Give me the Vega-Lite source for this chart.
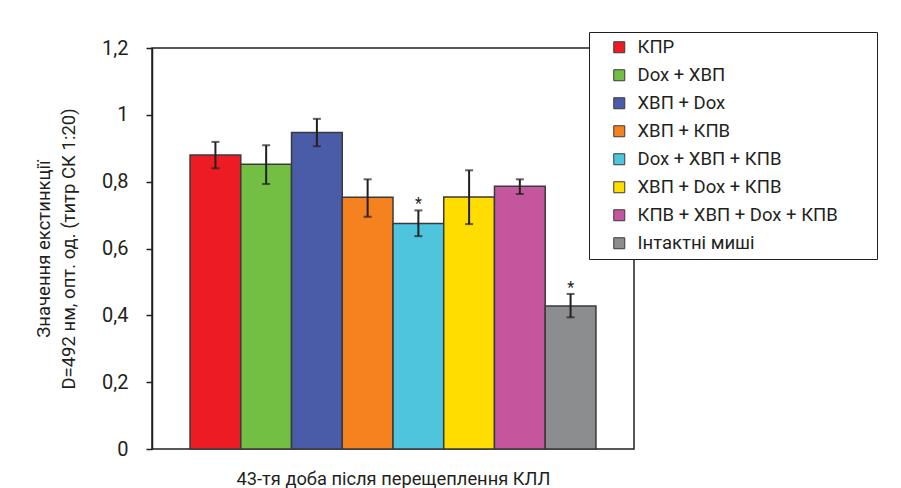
{
  "$schema": "https://vega.github.io/schema/vega-lite/v6.json",
  "autosize": {"type": "none"},
  "width": 482,
  "height": 401,
  "padding": {"left": 152, "top": 48, "right": 267, "bottom": 39},
  "background": "white",
  "config": {
    "font": "Roboto",
    "view": {"stroke": "#231F20", "strokeWidth": 1.5},
    "axis": {"grid": false}
  },
  "data": {
    "values": [
      {"group": "КПР", "value": 0.880, "lo": 0.840, "hi": 0.919, "sig": ""},
      {"group": "Dox + ХВП", "value": 0.852, "lo": 0.793, "hi": 0.909, "sig": ""},
      {"group": "ХВП + Dox", "value": 0.947, "lo": 0.906, "hi": 0.988, "sig": ""},
      {"group": "ХВП + КПВ", "value": 0.753, "lo": 0.695, "hi": 0.807, "sig": ""},
      {"group": "Dox + ХВП + КПВ", "value": 0.675, "lo": 0.637, "hi": 0.714, "sig": "*"},
      {"group": "ХВП + Dox + КПВ", "value": 0.754, "lo": 0.673, "hi": 0.834, "sig": ""},
      {"group": "КПВ + ХВП + Dox + КПВ", "value": 0.786, "lo": 0.763, "hi": 0.807, "sig": ""},
      {"group": "Інтактні миші", "value": 0.428, "lo": 0.394, "hi": 0.464, "sig": "*"}
    ]
  },
  "encoding": {
    "x": {
      "field": "group",
      "type": "nominal",
      "sort": null,
      "scale": {"paddingInner": 0, "paddingOuter": 0.75},
      "axis": {
        "labels": false,
        "ticks": false,
        "domain": false,
        "title": "43-тя доба після перещеплення КЛЛ",
        "titleFont": "Roboto",
        "titleFontSize": 18.3,
        "titleFontWeight": "normal",
        "titleColor": "#231F20",
        "titlePadding": 21
      }
    }
  },
  "layer": [
    {
      "mark": {"type": "bar", "stroke": "#3a3a3a", "strokeWidth": 1.5},
      "encoding": {
        "y": {
          "field": "value",
          "type": "quantitative",
          "scale": {"domain": [0, 1.2], "nice": false},
          "axis": {
            "values": [0, 0.2, 0.4, 0.6, 0.8, 1, 1.2],
            "labelExpr": "replace(format(datum.value, '.2~f'), '.', ',')",
            "labelFontSize": 20,
            "labelColor": "#231F20",
            "labelPadding": 18,
            "tickSize": 6,
            "tickColor": "#231F20",
            "tickWidth": 1.5,
            "domainColor": "#231F20",
            "domainWidth": 1.5,
            "title": ["Значення екстинкції", "D=492 нм, опт. од. (титр СК 1:20)"],
            "titleFontSize": 18.5,
            "titleFontWeight": "normal",
            "titleColor": "#231F20",
            "titleLineHeight": 25,
            "titlePadding": 23
          }
        },
        "color": {
          "field": "group",
          "type": "nominal",
          "sort": null,
          "scale": {
            "domain": ["КПР", "Dox + ХВП", "ХВП + Dox", "ХВП + КПВ", "Dox + ХВП + КПВ", "ХВП + Dox + КПВ", "КПВ + ХВП + Dox + КПВ", "Інтактні миші"],
            "range": ["#ED1C24", "#72BF44", "#4A5BA8", "#F5821F", "#4EC5DD", "#FFDD00", "#C4569E", "#8C8D8F"]
          },
          "legend": {
            "orient": "none",
            "legendX": 437,
            "legendY": -16,
            "title": null,
            "fillColor": "white",
            "strokeColor": "#231F20",
            "padding": 6,
            "symbolType": "square",
            "symbolSize": 121,
            "symbolStrokeColor": "#3a3a3a",
            "symbolStrokeWidth": 1,
            "symbolOffset": 15,
            "labelOffset": 9,
            "labelFontSize": 18.5,
            "labelColor": "#231F20",
            "rowPadding": 9,
            "labelLimit": 500,
            "labelExpr": "datum.label + ' \u2800\u2800'"
          }
        }
      }
    },
    {
      "mark": {"type": "rule", "color": "#231F20", "strokeWidth": 2},
      "encoding": {
        "y": {"field": "lo", "type": "quantitative"},
        "y2": {"field": "hi"}
      }
    },
    {
      "mark": {"type": "tick", "color": "#231F20", "thickness": 2, "size": 8},
      "encoding": {"y": {"field": "lo", "type": "quantitative"}}
    },
    {
      "mark": {"type": "tick", "color": "#231F20", "thickness": 2, "size": 8},
      "encoding": {"y": {"field": "hi", "type": "quantitative"}}
    },
    {
      "mark": {"type": "text", "fontSize": 16, "color": "#231F20", "baseline": "alphabetic", "dy": -1},
      "encoding": {
        "y": {"field": "hi", "type": "quantitative"},
        "text": {"field": "sig"}
      }
    }
  ]
}
